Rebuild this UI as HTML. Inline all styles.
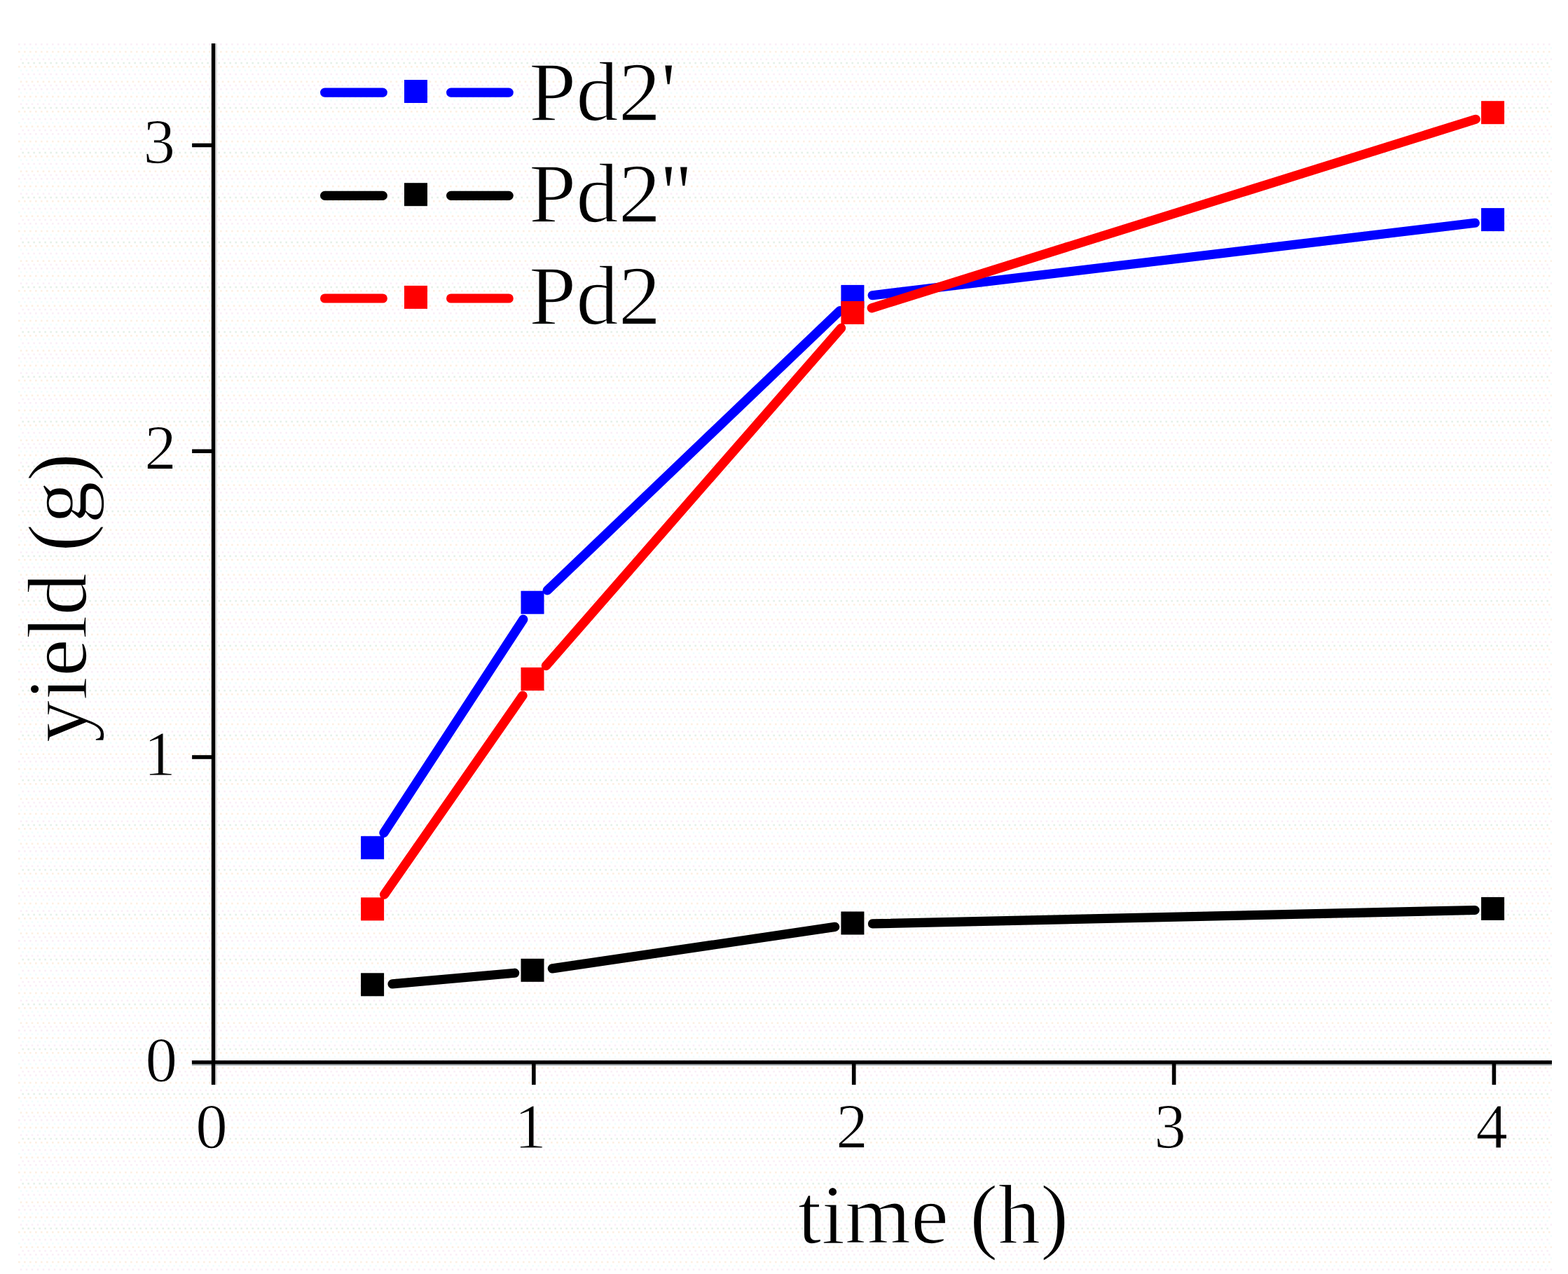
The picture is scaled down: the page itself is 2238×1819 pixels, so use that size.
<!DOCTYPE html>
<html lang="en">
<head>
<meta charset="utf-8">
<title>yield vs time</title>
<style>
html,body{margin:0;padding:0;background:#ffffff;}
body{width:2238px;height:1819px;overflow:hidden;}
svg{display:block;}
text{font-family:"Liberation Serif","DejaVu Serif",serif;fill:#000;}
.tick{font-size:91.0px;stroke:#fefefe;stroke-width:1.1px;}
.leg{font-size:121px;stroke:#fefefe;stroke-width:1.6px;}
.axl{font-size:121px;stroke:#fefefe;stroke-width:1.6px;}
</style>
</head>
<body>
<svg width="2238" height="1819" viewBox="0 0 2238 1819">
<defs>
<pattern id="dith" patternUnits="userSpaceOnUse" x="26" y="62" width="8" height="64">
<rect x="0.00" y="0.00" width="2.67" height="2.67" fill="#faeff8"/>
<rect x="2.67" y="5.33" width="2.67" height="2.67" fill="#f2fdfd"/>
<rect x="0.00" y="10.67" width="2.67" height="2.67" fill="#fcf0e3"/>
<rect x="5.33" y="16.00" width="2.67" height="2.67" fill="#f2fdfd"/>
<rect x="2.67" y="21.33" width="2.67" height="2.67" fill="#faeff8"/>
<rect x="5.33" y="26.67" width="2.67" height="2.67" fill="#e5f1e9"/>
<rect x="0.00" y="32.00" width="2.67" height="2.67" fill="#fcf0e3"/>
<rect x="2.67" y="37.33" width="2.67" height="2.67" fill="#f2fdfd"/>
<rect x="5.33" y="42.67" width="2.67" height="2.67" fill="#faeff8"/>
<rect x="0.00" y="48.00" width="2.67" height="2.67" fill="#f2fdfd"/>
<rect x="2.67" y="53.33" width="2.67" height="2.67" fill="#fcf0e3"/>
<rect x="5.33" y="58.67" width="2.67" height="2.67" fill="#faeff8"/>
</pattern>
</defs>
<rect x="0" y="0" width="2238" height="1819" fill="#ffffff"/>
<rect x="26" y="62" width="2189" height="1752" fill="url(#dith)"/>
<g fill="#000">
<rect x="307" y="62" width="2.7" height="1486.8" fill="#dcdcdc"/>
<rect x="273.9" y="1519" width="1941.1" height="2.3" fill="#9aa2a4"/>
<rect x="301.8" y="62" width="5.4" height="1486.8"/>
<rect x="273.9" y="1514.1" width="1941.1" height="5.1"/>
<rect x="274.1" y="1078.2" width="30" height="5.6"/>
<rect x="274.1" y="641.4" width="30" height="5.6"/>
<rect x="274.1" y="204.6" width="30" height="5.6"/>
<rect x="759.0" y="1517" width="5.6" height="31.8"/>
<rect x="1215.9" y="1517" width="5.6" height="31.8"/>
<rect x="1672.8" y="1517" width="5.6" height="31.8"/>
<rect x="2129.6" y="1517" width="5.6" height="31.8"/>
</g>
<text class="tick" x="230.3" y="1543.5" text-anchor="middle">0</text>
<text class="tick" x="228.1" y="1106.7" text-anchor="middle">1</text>
<text class="tick" x="229.1" y="669.9" text-anchor="middle">2</text>
<text class="tick" x="227.3" y="233.1" text-anchor="middle">3</text>
<text class="tick" x="301.9" y="1638.7" text-anchor="middle">0</text>
<text class="tick" x="757.0" y="1638.7" text-anchor="middle">1</text>
<text class="tick" x="1216.1" y="1638.7" text-anchor="middle">2</text>
<text class="tick" x="1669.9" y="1638.7" text-anchor="middle">3</text>
<text class="tick" x="2129.3" y="1638.7" text-anchor="middle">4</text>
<text class="axl" x="1332" y="1775.2" text-anchor="middle">time (h)</text>
<text class="axl" transform="translate(122.6,853.5) rotate(-90)" text-anchor="middle">yield (g)</text>
<g stroke="#0000ff" stroke-width="13.2" stroke-linecap="round" fill="none">
<line x1="547.9" y1="1189.2" x2="746.8" y2="884.3"/>
<line x1="781.1" y1="843.0" x2="1198.9" y2="443.5"/>
<line x1="1245.2" y1="421.7" x2="2105.3" y2="318.3"/>
</g>
<g fill="#0000ff">
<rect x="515.1" y="1193.8" width="33" height="33"/>
<rect x="743.5" y="843.7" width="33" height="33"/>
<rect x="1200.4" y="406.9" width="33" height="33"/>
<rect x="2114.1" y="297.1" width="33" height="33"/>
</g>
<g stroke="#000000" stroke-width="13.2" stroke-linecap="round" fill="none">
<line x1="560.0" y1="1404.9" x2="734.7" y2="1389.2"/>
<line x1="788.3" y1="1382.9" x2="1191.7" y2="1323.4"/>
<line x1="1245.4" y1="1318.9" x2="2105.1" y2="1299.5"/>
</g>
<g fill="#000000">
<rect x="515.1" y="1389.3" width="33" height="33"/>
<rect x="743.5" y="1368.8" width="33" height="33"/>
<rect x="1200.4" y="1301.5" width="33" height="33"/>
<rect x="2114.1" y="1280.9" width="33" height="33"/>
</g>
<g stroke="#ff0000" stroke-width="13.2" stroke-linecap="round" fill="none">
<line x1="548.5" y1="1277.2" x2="746.1" y2="993.1"/>
<line x1="779.3" y1="950.6" x2="1200.6" y2="468.3"/>
<line x1="1244.2" y1="439.9" x2="2106.3" y2="170.3"/>
</g>
<g fill="#ff0000">
<rect x="515.1" y="1281.4" width="33" height="33"/>
<rect x="743.5" y="953.0" width="33" height="33"/>
<rect x="1200.4" y="430.0" width="33" height="33"/>
<rect x="2114.1" y="144.2" width="33" height="33"/>
</g>
<g stroke="#0000ff" stroke-width="13.2" stroke-linecap="round">
<line x1="463.6" y1="132.1" x2="546.3" y2="132.1"/>
<line x1="643.6" y1="132.1" x2="726.2" y2="132.1"/>
</g>
<rect x="577" y="114.0" width="33" height="33" fill="#0000ff"/>
<text class="leg" x="755" y="171.9">Pd2'</text>
<g stroke="#000000" stroke-width="13.2" stroke-linecap="round">
<line x1="463.6" y1="279.3" x2="546.3" y2="279.3"/>
<line x1="643.6" y1="279.3" x2="726.2" y2="279.3"/>
</g>
<rect x="577" y="261.2" width="33" height="33" fill="#000000"/>
<text class="leg" x="755" y="317.4">Pd2''</text>
<g stroke="#ff0000" stroke-width="13.2" stroke-linecap="round">
<line x1="463.6" y1="426.0" x2="546.3" y2="426.0"/>
<line x1="643.6" y1="426.0" x2="726.2" y2="426.0"/>
</g>
<rect x="577" y="407.9" width="33" height="33" fill="#ff0000"/>
<text class="leg" x="755" y="462.9">Pd2</text>
</svg>
</body>
</html>
